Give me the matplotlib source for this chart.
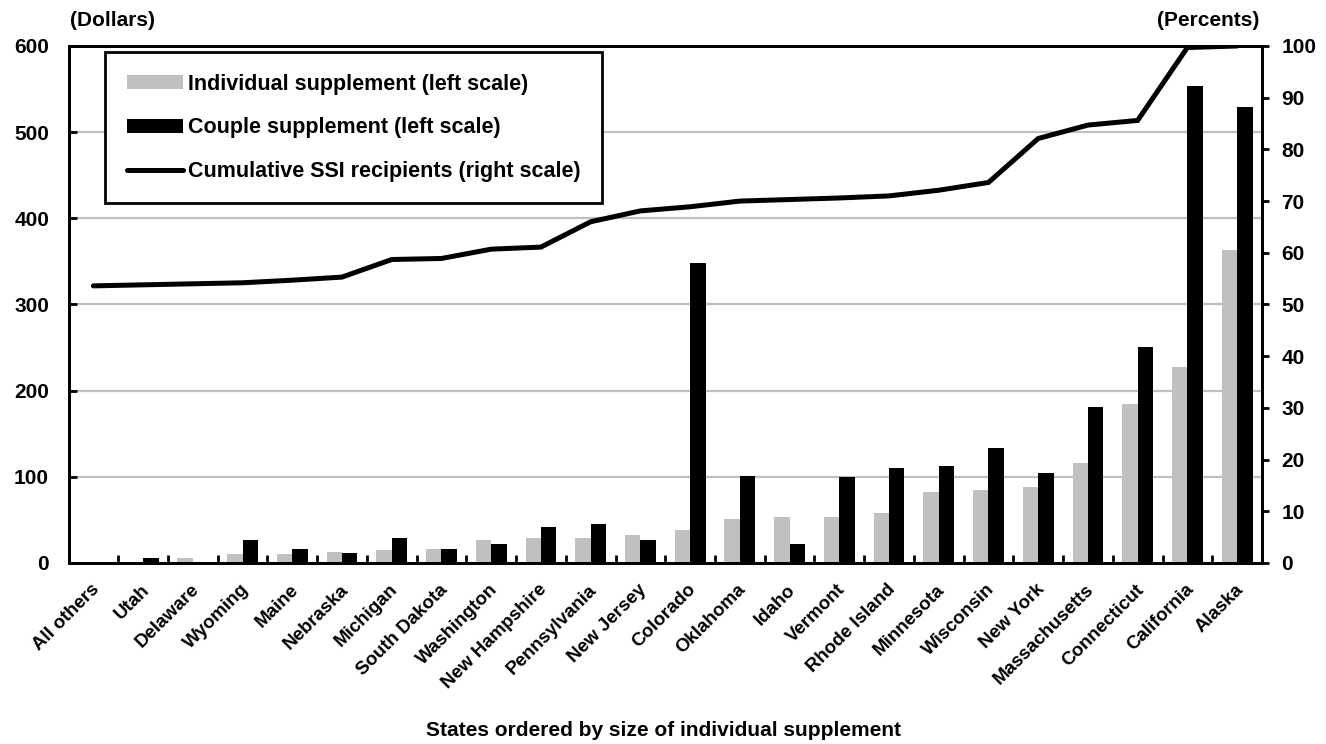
"""
State supplements to SSI: individual vs couple, with cumulative recipients line
"""
import numpy as np
import matplotlib
matplotlib.use("Agg")
import matplotlib.pyplot as plt
from matplotlib.lines import Line2D
from matplotlib.patches import Patch

plt.rcParams["font.family"] = ["Liberation Sans", "DejaVu Sans"]
plt.rcParams["font.weight"] = "bold"

# -------------------------------
# DATA
# -------------------------------
states = ["All others", "Utah", "Delaware", "Wyoming", "Maine", "Nebraska",
          "Michigan", "South Dakota", "Washington", "New Hampshire",
          "Pennsylvania", "New Jersey", "Colorado", "Oklahoma", "Idaho",
          "Vermont", "Rhode Island", "Minnesota", "Wisconsin", "New York",
          "Massachusetts", "Connecticut", "California", "Alaska"]

individual = [0, 0, 6, 11, 11, 13, 15, 16, 27, 29, 29, 32, 38, 51, 53,
              53, 58, 82, 85, 88, 116, 184, 227, 363]

couple = [0, 6, 0, 27, 16, 12, 29, 16, 22, 42, 45, 27, 348, 101, 22,
          100, 110, 112, 133, 105, 181, 251, 554, 529]

cumulative = [53.6, 53.8, 54.0, 54.2, 54.7, 55.3, 58.7, 58.9, 60.7, 61.1,
              66.0, 68.1, 68.9, 70.0, 70.3, 70.6, 71.0, 72.1, 73.6, 82.1,
              84.7, 85.6, 99.7, 100.0]

left_ticks = [0, 100, 200, 300, 400, 500, 600]
right_ticks = list(range(0, 101, 10))

GRAY = "#c0c0c0"
FS = 15

# -------------------------------
# FIGURE
# -------------------------------
fig = plt.figure(figsize=(13.26, 7.44), dpi=100)
ax = fig.add_axes([0.0517, 0.2433, 0.9, 0.6949])
ax2 = ax.twinx()

x = np.arange(len(states))
w = 0.31

ax.bar(x - w / 2, individual, width=w, color=GRAY, zorder=2)
ax.bar(x + w / 2, couple, width=w, color="black", zorder=2)

ax.set_xlim(-0.5, len(states) - 0.5)
ax.set_ylim(0, 600)
ax.set_yticks(left_ticks)
ax.yaxis.grid(True, color=GRAY, linewidth=1.6, zorder=0)
ax.set_axisbelow(True)

# ticks sit between categories, labels drawn rotated under each pair
ax.set_xticks(np.arange(len(states) + 1) - 0.5)
ax.set_xticklabels([])
ax.tick_params(axis="x", direction="in", length=6, width=2, top=False)
for i, name in enumerate(states):
    ax.text(i - 0.05, -0.035, name, transform=ax.get_xaxis_transform(),
            rotation=45, ha="right", va="top", fontsize=13.5, fontweight="bold",
            rotation_mode="anchor")

ax.tick_params(axis="y", direction="in", length=6, width=2, labelsize=FS, pad=14)

ax2.plot(x, cumulative, color="black", linewidth=3.6, solid_capstyle="round",
         solid_joinstyle="miter", zorder=3)
ax2.set_ylim(0, 100)
ax2.set_yticks(right_ticks)
ax2.tick_params(axis="y", direction="out", length=5, width=2, labelsize=FS, pad=9)

for a in (ax, ax2):
    for s in a.spines.values():
        s.set_linewidth(2)
        s.set_color("black")
    for lab in a.get_yticklabels():
        lab.set_fontweight("bold")

fig.text(0.053, 0.972, "(Dollars)", fontsize=FS, fontweight="bold",
         ha="left", va="center")
fig.text(0.950, 0.972, "(Percents)", fontsize=FS, fontweight="bold",
         ha="right", va="center")
fig.text(0.5, 0.018, "States ordered by size of individual supplement",
         fontsize=FS, fontweight="bold", ha="center", va="center")

handles = [
    Patch(facecolor=GRAY, edgecolor="none"),
    Patch(facecolor="black", edgecolor="none"),
    Line2D([0], [0], color="black", linewidth=3.6, solid_capstyle="round"),
]
labels = ["Individual supplement (left scale)",
          "Couple supplement (left scale)",
          "Cumulative SSI recipients (right scale)"]
leg = ax2.legend(handles, labels, loc="upper left",
                 bbox_to_anchor=(0.0306, 0.988), frameon=True, fancybox=False,
                 edgecolor="black", framealpha=1,
                 prop={"weight": "bold", "size": 15.5},
                 handlelength=2.6, handleheight=0.65, handletextpad=0.25,
                 labelspacing=1.05, borderpad=1.0, borderaxespad=0)
leg.get_frame().set_linewidth(2)
leg.set_zorder(5)

fig.savefig("out.png", dpi=100)
